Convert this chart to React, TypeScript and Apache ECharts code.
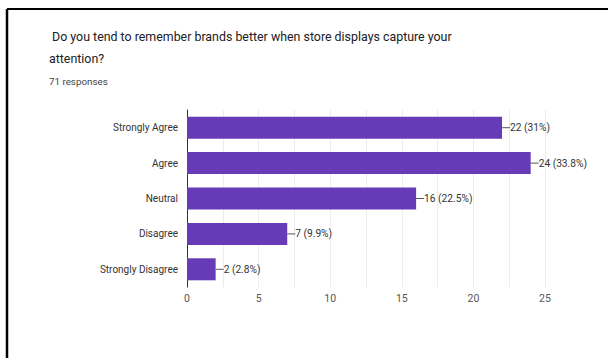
import React, { useEffect, useRef } from "react";
import * as echarts from "echarts";

const categories = ["Strongly Agree", "Agree", "Neutral", "Disagree", "Strongly Disagree"];
const counts = [22, 24, 16, 7, 2];
const percents = ["31%", "33.8%", "22.5%", "9.9%", "2.8%"];
const titleText = " Do you tend to remember brands better when store displays capture your\nattention?";
const subText = "71 responses";

const FONT = "Roboto, 'Noto Sans', sans-serif";

export default function App() {
  const ref = useRef<HTMLDivElement>(null);
  useEffect(() => {
    document.body.style.margin = "0";
    const chart = echarts.init(ref.current!, null, { renderer: "svg" });
    chart.setOption({
      animation: false,
      backgroundColor: "#fff",
      title: [
        {
          text: titleText,
          left: 49,
          top: 25,
          padding: 0,
          textStyle: { fontFamily: FONT, fontSize: 12.4, fontWeight: "normal", color: "#202124", lineHeight: 22 },
        },
        {
          text: subText,
          left: 49,
          top: 76,
          padding: 0,
          textStyle: { fontFamily: FONT, fontSize: 9.8, fontWeight: "normal", color: "#444" },
        },
      ],
      graphic: [
        { type: "line", shape: { x1: 7, y1: 9, x2: 608, y2: 9 }, style: { stroke: "#000", lineWidth: 2 } },
        { type: "line", shape: { x1: 7, y1: 9, x2: 7, y2: 358 }, style: { stroke: "#000", lineWidth: 2.5 } },
      ],
      grid: { left: 187, right: 63, top: 110, bottom: 71 },
      xAxis: {
        type: "value",
        min: 0,
        max: 25,
        interval: 2.5,
        axisLine: { show: false },
        axisTick: { show: false },
        splitLine: { lineStyle: { color: "#ececec" } },
        axisLabel: {
          fontFamily: FONT,
          fontSize: 10.5,
          color: "#555",
          margin: 6,
          formatter: (v: number) => (v % 5 === 0 ? String(v) : ""),
        },
      },
      yAxis: {
        type: "category",
        data: categories,
        inverse: true,
        axisLine: { show: true, lineStyle: { color: "#333" } },
        axisTick: { show: false },
        axisLabel: { fontFamily: FONT, fontSize: 10, color: "#333", margin: 9 },
      },
      series: [
        {
          type: "bar",
          data: counts,
          barWidth: 22,
          itemStyle: { color: "#673ab7" },
          label: {
            show: true,
            position: "right",
            distance: 0,
            formatter: (p: any) => `{l| }{t|${p.value} (${percents[p.dataIndex]})}`,
            rich: {
              l: { width: 8, height: 1, backgroundColor: "#555", lineHeight: 1 },
              t: { fontFamily: FONT, fontSize: 10.2, color: "#333" },
            },
          },
        },
      ],
    });
    return () => chart.dispose();
  }, []);
  return <div ref={ref} style={{ width: 608, height: 358 }} />;
}
